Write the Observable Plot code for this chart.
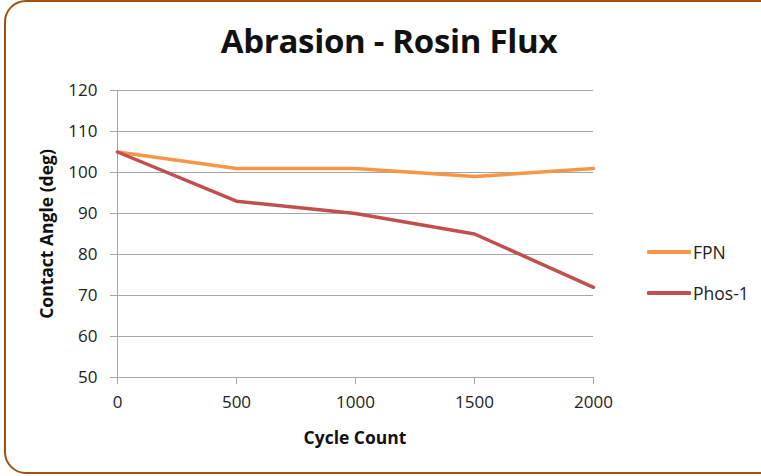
<!DOCTYPE html>
<html><head><meta charset="utf-8">
<script src="https://cdn.jsdelivr.net/npm/d3@7"></script>
<script src="https://cdn.jsdelivr.net/npm/@observablehq/plot@0.6"></script>
<style>
html,body{margin:0;padding:0;background:#fff;overflow:hidden;}
#wrap{position:relative;width:761px;height:476px;font-family:"Open Sans",sans-serif;}
#frame{position:absolute;left:4px;top:0px;width:790px;height:474px;border:2.5px solid #a34f12;border-radius:22px;box-sizing:border-box;}
#title{position:absolute;left:0;width:778px;top:18px;text-align:center;font-size:33px;font-weight:bold;color:#111;letter-spacing:-0.3px;}
#chart{position:absolute;left:0;top:0;}
.leg{position:absolute;left:647px;font-size:17.5px;color:#222;display:flex;align-items:center;}
.leg span.l{display:inline-block;width:44px;height:4px;margin-right:2px;border-radius:1px;}
#ylab{position:absolute;left:46px;top:234px;transform:translate(-50%,-50%) rotate(-90deg);font-size:17.5px;font-weight:bold;color:#111;white-space:nowrap;}
#xlab{position:absolute;left:355px;top:437px;transform:translate(-50%,-50%);font-size:17.5px;font-weight:bold;color:#111;}
</style></head>
<body><div id="wrap">
<div id="frame"></div>
<div id="chart"></div>
<div id="title">Abrasion - Rosin Flux</div>
<div id="ylab">Contact Angle (deg)</div>
<div id="xlab">Cycle Count</div>
<div id="legend"></div>
</div>
<script>
const cycles = [0, 500, 1000, 1500, 2000];
const fpn = [105, 101, 101, 99, 101];
const phos1 = [105, 93, 90, 85, 72];
const seriesNames = ["FPN", "Phos-1"];
const seriesColors = ["#f79646", "#c0504d"];
const yTicks = [50, 60, 70, 80, 90, 100, 110, 120];
const xTicks = [0, 500, 1000, 1500, 2000];

const data = [];
cycles.forEach((c, i) => data.push({series: "FPN", x: c, y: fpn[i]}));
cycles.forEach((c, i) => data.push({series: "Phos-1", x: c, y: phos1[i]}));

const grid = "#a6a6a6";
const plot = Plot.plot({
  width: 761, height: 476,
  marginLeft: 117, marginRight: 168, marginTop: 90, marginBottom: 99,
  style: {fontFamily: "'Open Sans', sans-serif", fontSize: "17px", color: "#222", background: "transparent"},
  x: {domain: [0, 2000], ticks: xTicks},
  y: {domain: [50, 120], ticks: yTicks},
  color: {domain: seriesNames, range: seriesColors},
  marks: [
    Plot.gridY(yTicks.slice(1), {stroke: grid, strokeOpacity: 1, strokeWidth: 1}),
    Plot.ruleY([50], {stroke: grid, strokeWidth: 1}),
    Plot.ruleX([0], {stroke: grid, strokeWidth: 1}),
    Plot.axisY(yTicks, {tickSize: 7, tickPadding: 13, stroke: grid, label: null, fill: "#222", tickFormat: d => String(d)}),
    Plot.axisX(xTicks, {tickSize: 7, tickPadding: 11, stroke: grid, label: null, fill: "#222", tickFormat: d => String(d)}),
    Plot.line(data, {x: "x", y: "y", z: "series", stroke: "series", strokeWidth: 3.5, strokeLinejoin: "round"})
  ]
});
document.getElementById("chart").appendChild(plot);

const leg = document.getElementById("legend");
const legY = [252, 293];
seriesNames.forEach((n, i) => {
  const d = document.createElement("div");
  d.className = "leg";
  d.style.top = (legY[i] - 12) + "px";
  d.innerHTML = `<span class="l" style="background:${seriesColors[i]}"></span>${n}`;
  leg.appendChild(d);
});
</script>
</body></html>
